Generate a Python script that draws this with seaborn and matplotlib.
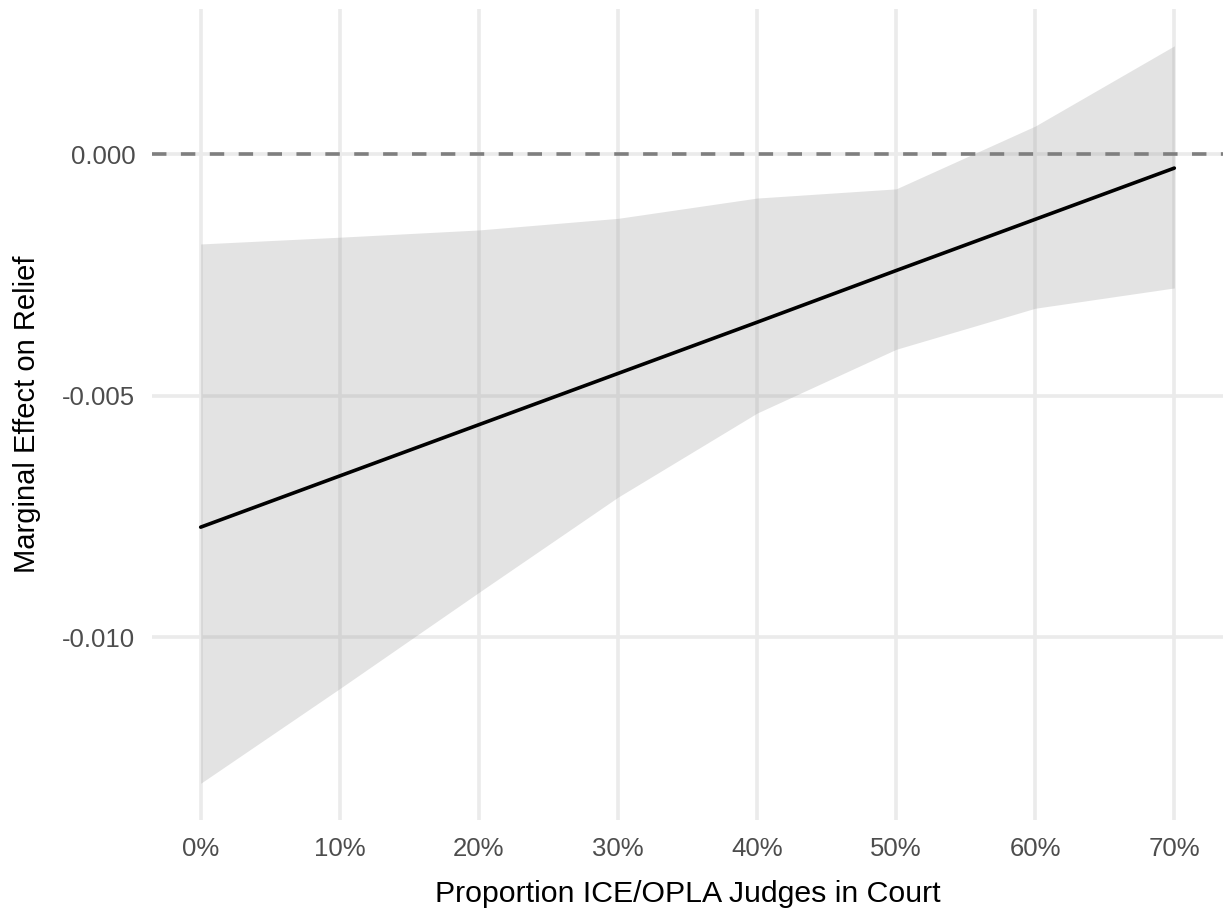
import numpy as np
import pandas as pd
import matplotlib
matplotlib.use("Agg")
import matplotlib.pyplot as plt
import seaborn as sns
from matplotlib.ticker import FuncFormatter

# 판독한 값 (marginal effect + 95% band)
share_ice = [0.0, 0.1, 0.2, 0.3, 0.4, 0.5, 0.6, 0.7]
effect = [-0.00772, -0.00666, -0.00560, -0.00454, -0.00348, -0.00241, -0.00135, -0.00029]
upper = [-0.00186, -0.00172, -0.00157, -0.00133, -0.00091, -0.00072, 0.00058, 0.00224]
lower = [-0.01302, -0.01106, -0.00907, -0.00710, -0.00536, -0.00404, -0.00319, -0.00277]
x_ticks = [0.0, 0.1, 0.2, 0.3, 0.4, 0.5, 0.6, 0.7]
y_ticks = [-0.010, -0.005, 0.000]

df = pd.DataFrame({"share": share_ice, "effect": effect, "lo": lower, "hi": upper})

sns.set_style("white")
plt.rcParams["font.family"] = ["Liberation Sans", "DejaVu Sans"]

fig = plt.figure(figsize=(12.23, 9.11), dpi=100)
ax = fig.add_axes([0.1243, 0.0999, 0.8757, 0.8901])

# grid (theme_minimal 느낌)
for t in x_ticks:
    ax.axvline(t, color="#EBEBEB", lw=2.6, zorder=0)
for t in y_ticks:
    ax.axhline(t, color="#EBEBEB", lw=2.6, zorder=0)

ax.fill_between(df["share"], df["lo"], df["hi"], color="#999999", alpha=0.27, lw=0, zorder=1)
ax.axhline(0, color="#7F7F7F", lw=2.6, ls=(0, (4, 4)), zorder=2)
sns.lineplot(data=df, x="share", y="effect", color="black", lw=2.6, ax=ax, zorder=3)

ax.set_xlim(-0.035, 0.735)
ax.set_ylim(-0.01378, 0.0030)
ax.set_xticks(x_ticks)
ax.set_yticks(y_ticks)
ax.xaxis.set_major_formatter(FuncFormatter(lambda v, p: f"{v * 100:.0f}%"))
ax.yaxis.set_major_formatter(FuncFormatter(lambda v, p: f"{v:.3f}".replace("\u2212", "-")))
ax.tick_params(axis="both", length=0, labelsize=18.5, labelcolor="#4D4D4D", pad=12)

for s in ax.spines.values():
    s.set_visible(False)

ax.set_xlabel("Proportion ICE/OPLA Judges in Court", fontsize=21.8, color="black", labelpad=14)
ax.set_ylabel("Marginal Effect on Relief", fontsize=21, color="black", labelpad=15)

fig.savefig("out.png", dpi=100)
